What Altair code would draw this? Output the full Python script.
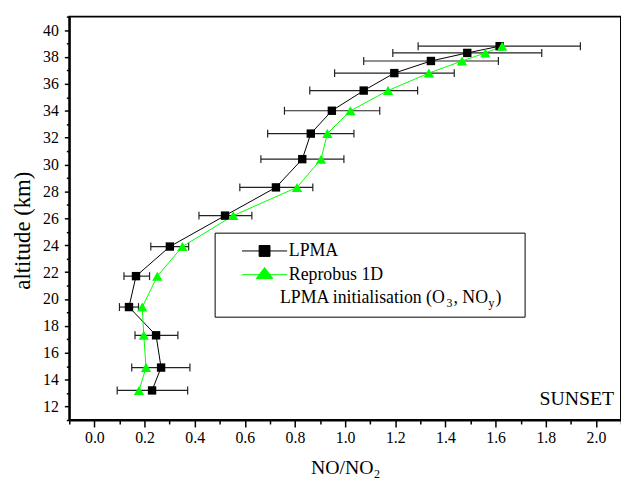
import altair as alt
import pandas as pd

# ---------------- data ----------------
altitude = [38.8, 38.3, 37.7, 36.8, 35.5, 34.0, 32.3, 30.4, 28.3, 26.2, 23.9, 21.7, 19.4, 17.3, 14.9, 13.2]
lpma = [1.616, 1.487, 1.342, 1.196, 1.074, 0.947, 0.863, 0.829, 0.724, 0.521, 0.301, 0.166, 0.138, 0.246, 0.266, 0.230]
lpma_lo = [1.291, 1.190, 1.074, 0.958, 0.859, 0.758, 0.691, 0.664, 0.580, 0.417, 0.225, 0.118, 0.100, 0.162, 0.149, 0.091]
lpma_hi = [1.938, 1.784, 1.611, 1.435, 1.289, 1.138, 1.035, 0.995, 0.871, 0.628, 0.376, 0.220, 0.176, 0.333, 0.381, 0.372]
reprobus = [1.626, 1.559, 1.466, 1.334, 1.171, 1.021, 0.929, 0.904, 0.808, 0.554, 0.351, 0.251, 0.191, 0.197, 0.206, 0.178]

series = ["LPMA", "Reprobus 1D"]
series_colors = ["#000000", "#00ff00"]

x_tick_values = [-0.1, 0.0, 0.1, 0.2, 0.3, 0.4, 0.5, 0.6, 0.7, 0.8, 0.9, 1.0,
                 1.1, 1.2, 1.3, 1.4, 1.5, 1.6, 1.7, 1.8, 1.9, 2.0, 2.1]
y_tick_values = [11, 12, 13, 14, 15, 16, 17, 18, 19, 20, 21, 22, 23, 24, 25, 26,
                 27, 28, 29, 30, 31, 32, 33, 34, 35, 36, 37, 38, 39, 40, 41]

FONT = "Liberation Serif"

df_l = pd.DataFrame({"alt": altitude, "x": lpma, "lo": lpma_lo, "hi": lpma_hi})
df_r = pd.DataFrame({"alt": altitude, "x": reprobus})
df_leg = pd.DataFrame({"series": series})
one = pd.DataFrame({"a": [0]})

xs = alt.Scale(domain=[-0.1, 2.1], nice=False, zero=False)
ys = alt.Scale(domain=[11, 41], nice=False, zero=False)

x_axis = alt.Axis(
    values=x_tick_values,
    labelExpr="round(datum.value*10) % 2 == 0 ? format(datum.value, '.1f') : ''",
    tickSize={"condition": {"test": "round(datum.value*10) % 2 == 0", "value": 7}, "value": 4},
    labelPadding=3, titlePadding=12, grid=False, labelFlush=False, labelOverlap=False,
    titleFont=FONT, titleFontSize=20, titleFontWeight="normal", titleColor="black",
)
y_axis = alt.Axis(
    values=y_tick_values,
    labelExpr="datum.value % 2 == 0 ? datum.label : ''",
    tickSize={"condition": {"test": "datum.value % 2 == 0", "value": 5}, "value": 3},
    labelPadding=6, titlePadding=8, grid=False, labelFlush=False, labelOverlap=False,
    titleFont=FONT, titleFontSize=23, titleFontWeight="normal", titleColor="black",
    titleY=216,
)


def X(field):
    return alt.X(f"{field}:Q", scale=xs, axis=x_axis, title="NO/NO₂")


Y = alt.Y("alt:Q", scale=ys, axis=y_axis, title="altitude (km)")

err = alt.Chart(df_l).mark_rule(color="#222222", strokeWidth=1.2).encode(x=X("lo"), x2="hi", y=Y)
cap_lo = alt.Chart(df_l).mark_point(shape="M0,-1L0,1", size=64, stroke="#222222", strokeWidth=1.2,
                                    filled=False, opacity=1).encode(x=X("lo"), y=Y)
cap_hi = alt.Chart(df_l).mark_point(shape="M0,-1L0,1", size=64, stroke="#222222", strokeWidth=1.2,
                                    filled=False, opacity=1).encode(x=X("hi"), y=Y)

line_l = alt.Chart(df_l).mark_line(color=series_colors[0], strokeWidth=1).encode(
    x=X("x"), y=Y, order="alt:Q")
line_r = alt.Chart(df_r).mark_line(color=series_colors[1], strokeWidth=1).encode(
    x=X("x"), y=Y, order="alt:Q")

pts_l = alt.Chart(df_l).mark_point(shape="square", filled=True, size=72, color=series_colors[0],
                                   opacity=1).encode(x=X("x"), y=Y)
pts_r = alt.Chart(df_r).mark_point(shape="triangle-up", filled=True, size=110, color=series_colors[1],
                                   opacity=1).encode(x=X("x"), y=Y)

# legend (symbols are line + marker paths)
sym_sq = "M-4.56,0H4.56M-1.1,-1.1H1.1V1.1H-1.1Z"
sym_tri = "M-4.56,0H4.56M0,-1.45L1.7,0.8H-1.7Z"
leg = alt.Legend(orient="none", legendX=188.5, legendY=228, title=None,
                 labelFont=FONT, labelFontSize=18, labelColor="black", labelFontWeight="normal",
                 labelOffset=15.5, rowPadding=5, padding=0, symbolStrokeWidth=1)
legend_layer = alt.Chart(df_leg).mark_point(filled=False, size=81, opacity=1, strokeWidth=1).encode(
    shape=alt.Shape("series:N", scale=alt.Scale(domain=series, range=[sym_sq, sym_tri]), legend=leg),
    fill=alt.Fill("series:N", scale=alt.Scale(domain=series, range=series_colors), legend=leg),
    stroke=alt.Stroke("series:N", scale=alt.Scale(domain=series, range=series_colors), legend=leg),
).transform_filter("false")

box = alt.Chart(one).mark_rect(fill="white", fillOpacity=0, stroke="black", strokeWidth=1).encode(
    x=alt.value(147.5), x2=alt.value(461), y=alt.value(219), y2=alt.value(304))


def txt(s, x, y, size=18, align="left"):
    return alt.Chart(one).mark_text(text=s, font=FONT, fontSize=size, align=align,
                                    baseline="alphabetic", color="black").encode(
        x=alt.value(x), y=alt.value(y))


init_line = [
    txt("LPMA initialisation (O", 213, 290),
    txt("3", 381.5, 294, size=12),
    txt(", NO", 388.5, 290),
    txt("y", 424, 294, size=12),
    txt(")", 431, 290),
]
sunset = txt("SUNSET", 551, 393, size=20, align="right")

chart = alt.layer(
    err, cap_lo, cap_hi, line_l, line_r, pts_l, pts_r, box, legend_layer, *init_line, sunset
).properties(
    width=558, height=408,
    autosize=alt.AutoSizeParams(type="none"),
    padding={"left": 62, "top": 6, "right": 0, "bottom": 62},
).configure_view(
    stroke="black", strokeWidth=2
).configure_axis(
    labelFont=FONT, labelFontSize=16, labelColor="black",
    titleFont=FONT, titleFontWeight="normal", titleColor="black",
    domainColor="black", domainWidth=2, tickColor="black", tickWidth=1.5,
).configure_legend(
    labelFont=FONT, labelFontSize=18, labelColor="black"
)

chart.save("out.html", embed_options={"renderer": "svg", "actions": False})
